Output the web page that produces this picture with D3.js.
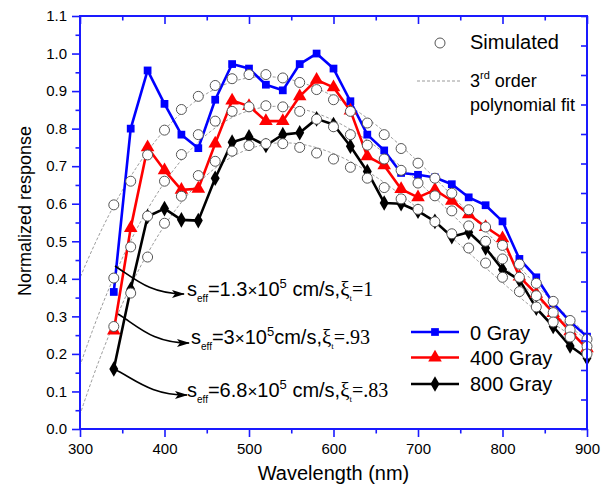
<!DOCTYPE html>
<html>
<head>
<meta charset="utf-8">
<script src="https://cdn.jsdelivr.net/npm/d3@7"></script>
<style>
  html, body { margin: 0; padding: 0; background: #fff; }
  svg { display: block; }
  text { font-family: Arial, "Liberation Sans", Helvetica, sans-serif; fill: #000; }
  .serif { font-family: "Liberation Serif", "Times New Roman", serif; }
</style>
</head>
<body>
<svg id="chart" width="611" height="490"></svg>
<script>
// Wavelength samples (nm)
const wavelengths = [340, 360, 380, 400, 420, 440, 460, 480, 500, 520, 540, 560, 580, 600,
  620, 640, 660, 680, 700, 720, 740, 760, 780, 800, 820, 840, 860, 880, 900];

// Measured normalized response for each dose
const gray0 = [0.365, 0.800, 0.955, 0.866, 0.784, 0.748, 0.877, 0.972, 0.960, 0.917, 0.902, 0.972, 1.000, 0.960,
  0.873, 0.784, 0.742, 0.682, 0.677, 0.670, 0.652, 0.617, 0.596, 0.553, 0.453, 0.404, 0.335, 0.286, 0.246];
const gray400 = [0.262, 0.535, 0.750, 0.689, 0.637, 0.640, 0.760, 0.875, 0.860, 0.820, 0.820, 0.886, 0.930, 0.910,
  0.848, 0.726, 0.702, 0.639, 0.617, 0.637, 0.608, 0.572, 0.538, 0.508, 0.406, 0.360, 0.309, 0.260, 0.215];
const gray800 = [0.160, 0.372, 0.566, 0.587, 0.557, 0.555, 0.668, 0.764, 0.778, 0.755, 0.784, 0.789, 0.826, 0.811,
  0.753, 0.686, 0.602, 0.600, 0.580, 0.553, 0.512, 0.524, 0.482, 0.425, 0.397, 0.322, 0.273, 0.221, 0.189];

// Simulated response for the three surface recombination velocities
const simSeff13 = [0.597, 0.660, 0.730, 0.796, 0.851, 0.886, 0.915, 0.933, 0.944, 0.944, 0.935, 0.923, 0.904, 0.877,
  0.846, 0.815, 0.784, 0.747, 0.708, 0.668, 0.628, 0.584, 0.538, 0.489, 0.439, 0.388, 0.340, 0.289, 0.239];
const simSeff30 = [0.402, 0.485, 0.567, 0.660, 0.731, 0.784, 0.820, 0.846, 0.858, 0.861, 0.858, 0.846, 0.825, 0.805,
  0.784, 0.756, 0.719, 0.689, 0.655, 0.621, 0.581, 0.541, 0.500, 0.453, 0.404, 0.355, 0.310, 0.264, 0.220];
const simSeff68 = [0.273, 0.362, 0.458, 0.548, 0.620, 0.675, 0.713, 0.740, 0.755, 0.760, 0.760, 0.750, 0.735, 0.719,
  0.697, 0.668, 0.643, 0.613, 0.585, 0.552, 0.520, 0.482, 0.442, 0.404, 0.366, 0.325, 0.285, 0.245, 0.200];

// Axis ticks
const xMajorTicks = [300, 400, 500, 600, 700, 800, 900];
const xMinorTicks = [350, 450, 550, 650, 750, 850];
const yMajorTicks = [0.0, 0.1, 0.2, 0.3, 0.4, 0.5, 0.6, 0.7, 0.8, 0.9, 1.0, 1.1];
const yMinorTicks = [0.05, 0.15, 0.25, 0.35, 0.45, 0.55, 0.65, 0.75, 0.85, 0.95, 1.05];
const rightTicks = [0, 0.1, 0.2, 0.3, 0.4, 0.5, 0.6, 0.7, 0.8, 0.9, 1.0, 1.1, 1.2, 1.3, 1.4];

const svg = d3.select("#chart");
const L = 80, R = 587, T = 16, B = 429;
const AXIS = "#1a1aff";

const x = d3.scaleLinear().domain([300, 900]).range([L, R]);
const y = d3.scaleLinear().domain([0, 1.1]).range([B, T]);
const yRight = d3.scaleLinear().domain([0, 1.4]).range([B, T]);

svg.append("defs").append("clipPath").attr("id", "plotClip")
  .append("rect").attr("x", L).attr("y", T).attr("width", R - L).attr("height", B - T);

// Cubic least-squares fit
function cubicFit(xs, ys) {
  const c = 600, s = 300;
  const n = 4;
  const A = Array.from({length: n}, () => new Array(n + 1).fill(0));
  xs.forEach((xv, k) => {
    const t = (xv - c) / s;
    const p = [1, t, t * t, t * t * t];
    for (let i = 0; i < n; i++) {
      for (let j = 0; j < n; j++) A[i][j] += p[i] * p[j];
      A[i][n] += p[i] * ys[k];
    }
  });
  for (let i = 0; i < n; i++) {
    let m = i;
    for (let r = i + 1; r < n; r++) if (Math.abs(A[r][i]) > Math.abs(A[m][i])) m = r;
    [A[i], A[m]] = [A[m], A[i]];
    for (let r = 0; r < n; r++) {
      if (r === i) continue;
      const f = A[r][i] / A[i][i];
      for (let col = i; col <= n; col++) A[r][col] -= f * A[i][col];
    }
  }
  const coef = A.map((row, i) => row[n] / row[i]);
  return xv => { const t = (xv - c) / s; return coef[0] + coef[1] * t + coef[2] * t * t + coef[3] * t * t * t; };
}

// Fitted curves
const fitGroup = svg.append("g").attr("clip-path", "url(#plotClip)");
const fitX = d3.range(296, 905, 2);
[simSeff13, simSeff30, simSeff68].forEach(sim => {
  const f = cubicFit(wavelengths, sim);
  fitGroup.append("path")
    .datum(fitX.map(w => [w, f(w)]))
    .attr("fill", "none")
    .attr("stroke", "#9a9a9a")
    .attr("stroke-width", 1)
    .attr("stroke-dasharray", "3,2")
    .attr("d", d3.line().x(d => x(d[0])).y(d => y(d[1])));
});

// Measured series
const series = [
  {name: "0 Gray", values: gray0, color: "#0000ff", shape: d3.symbolSquare, size: 60},
  {name: "400 Gray", values: gray400, color: "#ff0000", shape: d3.symbolTriangle, size: 80},
  {name: "800 Gray", values: gray800, color: "#000000", shape: d3.symbolDiamond, size: 70}
];
const line = d3.line().x(d => x(d[0])).y(d => y(d[1]));
series.forEach(s => {
  svg.append("path")
    .datum(wavelengths.map((w, i) => [w, s.values[i]]))
    .attr("fill", "none")
    .attr("stroke", s.color)
    .attr("stroke-width", 2.6)
    .attr("stroke-linejoin", "round")
    .attr("d", line);
});
series.forEach(s => {
  svg.append("g").selectAll("path")
    .data(wavelengths.map((w, i) => [w, s.values[i]]))
    .join("path")
    .attr("transform", d => `translate(${x(d[0])},${y(d[1])})`)
    .attr("d", d3.symbol().type(s.shape).size(s.size))
    .attr("fill", s.color);
});

// Simulated points
[simSeff13, simSeff30, simSeff68].forEach(sim => {
  svg.append("g").selectAll("circle")
    .data(wavelengths.map((w, i) => [w, sim[i]]))
    .join("circle")
    .attr("cx", d => x(d[0]))
    .attr("cy", d => y(d[1]))
    .attr("r", 5)
    .attr("fill", "#fff")
    .attr("stroke", "#555")
    .attr("stroke-width", 1);
});

// Axes
function styleAxis(g) {
  g.select(".domain").remove();
  g.selectAll(".tick line").attr("stroke", AXIS).attr("stroke-width", 1.6);
  g.selectAll("text").attr("font-size", 15).attr("fill", "#000")
    .attr("font-family", "Arial, 'Liberation Sans', sans-serif");
}
svg.append("g").attr("transform", `translate(0,${B})`)
  .call(d3.axisBottom(x).tickValues(xMajorTicks).tickSize(8).tickPadding(6).tickFormat(d3.format("d")))
  .call(styleAxis);
svg.append("g").attr("transform", `translate(0,${B})`)
  .call(d3.axisBottom(x).tickValues(xMinorTicks).tickSize(4.5).tickFormat(""))
  .call(styleAxis);
svg.append("g").attr("transform", `translate(0,${T})`)
  .call(d3.axisTop(x).tickValues(xMajorTicks).tickSize(-8).tickFormat(""))
  .call(styleAxis);
svg.append("g").attr("transform", `translate(0,${T})`)
  .call(d3.axisTop(x).tickValues(xMinorTicks).tickSize(-4.5).tickFormat(""))
  .call(styleAxis);
svg.append("g").attr("transform", `translate(${L},0)`)
  .call(d3.axisLeft(y).tickValues(yMajorTicks).tickSize(8).tickPadding(5).tickFormat(d3.format(".1f")))
  .call(styleAxis);
svg.append("g").attr("transform", `translate(${L},0)`)
  .call(d3.axisLeft(y).tickValues(yMinorTicks).tickSize(4.5).tickFormat(""))
  .call(styleAxis);
svg.append("g").attr("transform", `translate(${R},0)`)
  .call(d3.axisRight(yRight).tickValues(rightTicks).tickSize(-6).tickFormat(""))
  .call(styleAxis);

svg.append("rect")
  .attr("x", L).attr("y", T).attr("width", R - L).attr("height", B - T)
  .attr("fill", "none").attr("stroke", AXIS).attr("stroke-width", 2);

// Axis titles
svg.append("text").attr("x", (L + R) / 2).attr("y", 480)
  .attr("text-anchor", "middle").attr("font-size", 20).text("Wavelength (nm)");
svg.append("text").attr("transform", "translate(31,211) rotate(-90)")
  .attr("text-anchor", "middle").attr("font-size", 18).text("Normalized response");

// Annotations with arrows
svg.select("defs").append("marker")
  .attr("id", "arrowHead").attr("markerUnits", "userSpaceOnUse")
  .attr("markerWidth", 14).attr("markerHeight", 10)
  .attr("refX", 12).attr("refY", 4).attr("orient", "auto")
  .append("path").attr("d", "M0,0 L13,4 L0,8 L3,4 Z").attr("fill", "#000");

const arrows = [
  "M115,266 C135,279 150,294 184,294",
  "M118,314 C138,326 152,343 189,343",
  "M114,369 C135,379 150,395 187,395"
];
arrows.forEach(d => {
  svg.append("path").attr("d", d).attr("fill", "none")
    .attr("stroke", "#000").attr("stroke-width", 1.6)
    .attr("marker-end", "url(#arrowHead)");
});

const annotations = [
  {x: 187, y: 296, mant: "1.3", unitSpace: " ", xi: "=1"},
  {x: 191, y: 344, mant: "3", unitSpace: "", xi: "=.93"},
  {x: 187, y: 397, mant: "6.8", unitSpace: " ", xi: "=.83"}
];
annotations.forEach(a => {
  const t = svg.append("text").attr("x", a.x).attr("y", a.y).attr("font-size", 20);
  t.append("tspan").text("s");
  t.append("tspan").attr("font-size", 10).attr("dy", 6).text("eff");
  t.append("tspan").attr("dy", -6).text("=" + a.mant);
  t.append("tspan").attr("font-size", 17).text("\u00D7");
  t.append("tspan").text("10");
  t.append("tspan").attr("font-size", 13).attr("dy", -8).text("5");
  t.append("tspan").attr("dy", 8).text(a.unitSpace + "cm/s,");
  t.append("tspan").attr("class", "serif").attr("font-size", 21).text("\u03BE");
  t.append("tspan").attr("class", "serif").attr("font-size", 9).attr("dy", 5).text("t");
  t.append("tspan").attr("class", "serif").attr("font-size", 20).attr("dy", -5).text(a.xi);
});

// Legend: simulated and fits
svg.append("circle").attr("cx", 440).attr("cy", 43).attr("r", 5)
  .attr("fill", "#fff").attr("stroke", "#555").attr("stroke-width", 1);
svg.append("text").attr("x", 470).attr("y", 49).attr("font-size", 20).text("Simulated");
svg.append("line").attr("x1", 417).attr("x2", 460).attr("y1", 81).attr("y2", 81)
  .attr("stroke", "#9a9a9a").attr("stroke-width", 1).attr("stroke-dasharray", "3,2");
const fitLabel = svg.append("text").attr("x", 470).attr("y", 87).attr("font-size", 18);
fitLabel.append("tspan").text("3");
fitLabel.append("tspan").attr("font-size", 11).attr("dy", -8).text("rd");
fitLabel.append("tspan").attr("dy", 8).text(" order");
svg.append("text").attr("x", 470).attr("y", 111).attr("font-size", 18).text("polynomial fit");

// Legend: measured series
const legendY = [332, 357.5, 384];
const textY = [339.5, 365, 391];
series.forEach((s, i) => {
  svg.append("line").attr("x1", 411).attr("x2", 459).attr("y1", legendY[i]).attr("y2", legendY[i])
    .attr("stroke", s.color).attr("stroke-width", 2.6);
  svg.append("path").attr("transform", `translate(435,${legendY[i]})`)
    .attr("d", d3.symbol().type(s.shape).size(s.size)).attr("fill", s.color);
  svg.append("text").attr("x", 470).attr("y", textY[i]).attr("font-size", 20).text(s.name);
});
</script>
</body>
</html>
